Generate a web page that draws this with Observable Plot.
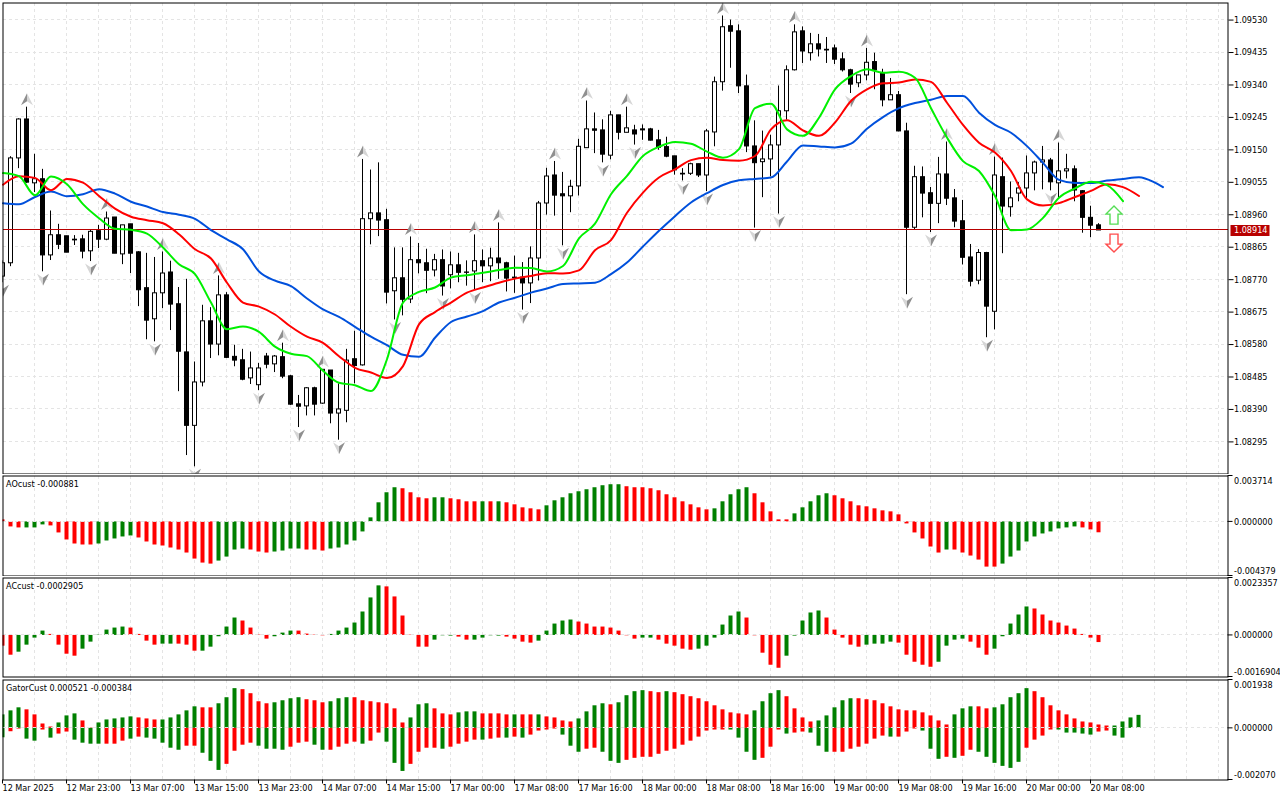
<!DOCTYPE html>
<html><head><meta charset="utf-8">
<script src="https://cdn.jsdelivr.net/npm/d3@7"></script>
<script src="https://cdn.jsdelivr.net/npm/@observablehq/plot@0.6"></script>
<style>html,body{margin:0;padding:0;background:#fff}#chart{position:relative;width:1280px;height:800px;overflow:hidden}#chart svg{position:absolute;left:0}</style>
</head><body><div id="chart"></div>
<script>
// Candles, in 1e-5 price points
const openPts=[108779,108818,109125,109239,109052,109064,108841,108900,108897,108887,
108888,108853,108912,108887,108952,108844,108932,108850,108745,108654,
108730,108791,108698,108557,108342,108469,108648,108580,108724,108544,
108534,108481,108461,108545,108522,108543,108487,108405,108399,108452,
108407,108504,108378,108386,108537,108519,108947,108964,108944,108736,
108774,108712,108827,108818,108797,108827,108783,108812,108791,108794,
108824,108809,108832,108818,108776,108776,108759,108832,108993,109075,
109020,109014,109043,109155,109210,109207,109133,109251,109200,109207,
109210,109210,109178,109158,109131,109080,109080,109108,109075,109201,
109348,109512,109497,109336,109160,109114,109122,109163,109263,109383,
109497,109433,109459,109443,109447,109415,109383,109345,109368,109407,
109374,109295,109310,109204,108922,109070,109023,108992,109078,109008,
108941,108835,108767,108848,108676,109070,108982,109022,109037,109081,
109113,109119,109052,109087,109093,109029,108951,108929];
const closePts=[108818,109125,109239,109054,109064,108841,108900,108872,108849,108885,
108852,108910,108887,108949,108846,108929,108846,108739,108650,108730,
108788,108697,108559,108342,108469,108648,108580,108724,108541,108533,
108477,108510,108510,108521,108545,108486,108404,108398,108452,108404,
108506,108378,108390,108533,108517,108947,108964,108943,108732,108774,
108711,108827,108818,108796,108827,108750,108812,108790,108790,108824,
108809,108832,108818,108773,108774,108759,108832,108993,109072,109016,
109014,109042,109159,109210,109206,109136,109251,109200,109213,109195,
109207,109177,109156,109130,109090,109078,109108,109075,109204,109348,
109509,109496,109336,109160,109111,109122,109163,109263,109383,109494,
109438,109459,109444,109441,109414,109383,109341,109368,109405,109383,
109295,109310,109204,108922,109070,109022,108992,109078,109007,108940,
108834,108764,108848,108691,109075,108984,109008,109037,109081,109113,
109119,109055,109087,109093,109031,108951,108928,108914];
const highPts=[108825,109130,109241,109275,109137,109093,108971,108932,108897,108899,
108900,108914,108929,108968,108952,108929,108932,108852,108847,108835,
108851,108824,108747,108771,108529,108695,108688,108781,108732,108578,
108566,108558,108525,108554,108548,108584,108490,108431,108454,108455,
108507,108504,108465,108566,108619,109122,109091,109112,108976,108863,
108863,108895,108876,108859,108844,108857,108851,108847,108825,108901,
108857,108862,108936,108821,108839,108820,108866,108999,109096,109116,
109084,109061,109181,109293,109258,109238,109263,109251,109275,109222,
109223,109213,109207,109187,109131,109095,109111,109108,109210,109363,
109542,109530,109516,109369,109235,109205,109193,109337,109396,109516,
109510,109491,109488,109479,109457,109434,109386,109368,109447,109433,
109386,109359,109321,109228,109102,109100,109040,109128,109173,109034,
109002,108873,108858,108850,109129,109126,109056,109054,109132,109117,
109160,109125,109170,109137,109103,109031,108985,108934];
const lowPts=[108761,108808,109095,109052,109025,108793,108826,108858,108849,108870,
108831,108823,108861,108884,108846,108814,108788,108691,108594,108588,
108685,108621,108442,108255,108222,108456,108539,108547,108539,108515,
108474,108463,108445,108509,108498,108480,108402,108337,108371,108371,
108405,108348,108300,108351,108465,108517,108872,108896,108699,108652,
108664,108700,108787,108729,108778,108722,108743,108761,108751,108740,
108761,108764,108771,108734,108730,108681,108700,108766,108959,108956,
108869,108966,109015,109154,109139,109112,109121,109179,109200,109164,
109178,109176,109149,109127,109076,109059,109075,109069,109028,109159,
109322,109389,109315,109142,108921,109010,109071,108962,109237,109381,
109403,109410,109422,109403,109400,109378,109315,109332,109352,109326,
109276,109295,109203,108726,108916,108951,108908,108934,108987,108922,
108813,108749,108755,108600,108623,108846,108953,108998,109005,109030,
109033,109030,109010,109065,108998,108906,108893,108914];

// Alligator lines, read every second bar (the blue one has its last bar as well)
const jawPts=[108994,108991,109012,109028,109014,109020,109035,109022,108998,108984,108968,108960,108948,108915,108888,108859,108794,108767,108751,108715,
108683,108661,108632,108603,108578,108550,108544,108600,108646,108662,108678,108703,108717,108732,108744,108757,108759,108761,108786,108820,
108867,108913,108956,108996,109023,109047,109061,109065,109069,109116,109163,109160,109157,109168,109212,109246,109272,109287,109297,109308,
109308,109259,109223,109200,109161,109112,109062,109053,109053,109060,109065,109070,109054,109041];
const teethPts=[109048,109073,109068,109032,109065,109054,109015,108978,108954,108944,108935,108903,108859,108832,108761,108703,108691,108668,108632,108603,
108585,108546,108512,108498,108482,108517,108639,108675,108703,108732,108747,108761,108773,108781,108789,108788,108797,108856,108886,108966,
109025,109069,109093,109120,109127,109120,109118,109132,109210,109237,109207,109191,109230,109293,109327,109345,109347,109356,109349,109288,
109223,109171,109142,109088,109005,108987,108994,109012,109030,109049,109041,109015];
const lipsPts=[109082,109073,109017,109072,109049,108991,108950,108919,108916,108905,108864,108815,108786,108703,108625,108633,108617,108574,108553,108546,
108503,108468,108461,108444,108537,108703,108734,108747,108776,108783,108790,108798,108805,108804,108794,108810,108891,108934,109020,109074,
109132,109159,109173,109168,109145,109127,109152,109272,109285,109210,109191,109244,109327,109366,109386,109376,109379,109361,109272,109186,
109117,109088,109015,108915,108917,108951,109010,109037,109057,109047,109000];

const fractalUp=[3,13,20,27,35,40,45,51,59,62,69,73,78,90,99,108,118,124,132];
const fractalDown=[0,5,11,19,24,32,37,42,49,55,59,65,70,75,79,85,88,94,97,106,113,116,123,131];
const signalBar=139, signalUpPts=108959, signalDownPts=108877;
const currentPrice=1.08914;

// Oscillators, in millionths
const aoValues=[163,-407,-488,-488,-488,-244,-325,-894,-1463,-1789,
-1870,-1870,-1789,-1545,-1382,-1220,-1138,-1301,-1626,-1870,
-1951,-2114,-2276,-2520,-3008,-3333,-3415,-3171,-2846,-2276,
-2195,-2276,-2439,-2520,-2439,-2358,-2195,-2195,-2276,-2276,
-2358,-2195,-2114,-1870,-1545,-813,325,1545,2358,2764,
2683,2358,1951,1870,1951,1951,1870,1789,1626,1626,
1626,1626,1626,1545,1382,1138,1057,976,1301,1707,
1951,2276,2439,2602,2764,2927,3008,3008,2846,2764,
2764,2683,2520,2195,1951,1626,1382,1138,976,1057,
1626,2195,2602,2764,2276,1545,813,163,163,650,
1138,1626,2114,2276,2114,1870,1626,1301,1220,1057,
894,813,569,-163,-894,-1382,-2033,-2520,-2276,-2276,
-2520,-2764,-3089,-3659,-3659,-3415,-2846,-2358,-1626,-1220,
-976,-813,-569,-488,-407,-488,-650,-881];
const aoColors="rrrgggrrrr"+"rrgggggrrr"+"rrrrrrrggg"+"grrrggggrr"+"rggggggggg"+"rrrrggrrrr"+"grgrrrrrgg"+"ggggggggrr"+"rrrrrrrrrg"+"ggggrrrrrg"+"ggggrrrrrr"+"rrrrrrrrgr"+"rrrrrggggg"+"gggggrrr";
const acValues=[-436,-804,-681,-395,-109,177,41,-395,-763,-844,
-558,-272,14,218,300,341,300,41,-232,-395,
-354,-354,-354,-395,-640,-640,-477,-54,341,708,
586,300,14,-150,-54,95,177,177,54,14,
-14,41,177,300,504,953,1525,2016,1975,1566,
790,14,-477,-477,-191,-14,-27,-68,-191,-191,
-109,-14,-27,-68,-150,-272,-313,-232,177,463,
586,627,545,463,341,341,300,177,-14,-150,
-109,-109,-191,-354,-436,-558,-599,-558,-436,-109,
422,790,953,708,-14,-722,-1212,-1335,-844,-27,
586,913,994,708,218,-109,-395,-477,-395,-354,
-354,-272,-313,-804,-1090,-1212,-1294,-1090,-436,-191,
-150,-272,-518,-804,-558,-54,463,831,1158,1076,
831,586,504,381,259,41,-109,-290];
const acColors="rrggggrrrr"+"ggggggrrrr"+"ggrrrggggg"+"rrrrgggrrr"+"rgggggggrr"+"rrrrgggrrg"+"gggrrrrggg"+"ggrrrrrrrr"+"ggrrrrrggg"+"gggrrrrrgg"+"gggrrrrrgg"+"ggrrrrrggg"+"grrrgggggr"+"rrrrrrrr";
const gatorUp=[540,701,823,742,540,175,54,216,499,580,
297,13,216,337,378,418,459,418,378,337,
337,418,540,701,863,823,823,985,1228,1592,
1551,1389,1066,985,1025,1106,1187,1228,1147,1106,
1025,1066,1187,1228,1228,1106,1066,1025,985,782,
216,418,944,985,782,580,540,621,661,661,
580,580,580,540,540,540,540,540,459,418,
297,256,378,661,904,985,944,1025,1309,1470,
1511,1470,1430,1470,1430,1349,1268,1187,1066,904,
742,621,580,540,701,1066,1389,1511,1268,782,
418,256,297,499,823,1106,1187,1187,1147,1106,
985,863,742,701,701,621,499,297,135,540,
782,863,863,782,823,944,1228,1389,1592,1470,
1228,904,701,540,378,256,216,135,94,94,
256,418,521];
const gatorDown=[378,135,27,432,513,67,391,229,148,472,
594,634,634,634,634,513,432,351,391,432,
594,796,877,715,715,998,1322,1686,1443,917,
675,594,715,836,836,877,755,594,553,675,
877,877,755,634,553,634,513,189,553,1403,
1727,1443,958,796,796,836,755,634,553,472,
472,432,391,391,351,391,270,108,67,27,
270,715,958,836,796,958,1322,1403,1282,1201,
1160,1160,1039,917,836,675,513,351,108,67,
67,67,391,958,1282,1201,755,67,229,189,
148,189,715,958,958,958,836,755,634,432,
310,351,351,148,27,108,836,1241,1160,1201,
1120,877,958,1160,1403,1524,1605,1362,796,472,
310,67,67,189,189,229,270,148,108,310,
391,0,0].map(v=>-v);
const gatorUpColors="gggrrrrggg"+"rrgggggrrr"+"gggggrrggg"+"rrrrggggrr"+"rgggrrrrrr"+"rgggrrrggg"+"rrrrgrrgrr"+"rrggggrggg"+"grrgrrrrrr"+"rrrrggggrr"+"rrgggggrrr"+"rrrrrrrrrg"+"ggrrgggggr"+"rrrrrrrrrg"+"ggg";
const gatorDownColors="grrggrgrrg"+"gggrrrgrgg"+"gggrrgggrr"+"rrggggrrrg"+"grrrrgrrgg"+"grrrrgrrrr"+"grrgrgrrrr"+"gggrrgggrr"+"rrrrrrrrrr"+"rggggrrrgr"+"rgggrrrrrr"+"rgrrrgggrg"+"rrggggggrr"+"rrgggggrrg"+"ggg";

const priceTicks=[109530,109435,109340,109245,109150,109055,108960,108865,108770,108675,108580,108485,108390,108295];
const timeLabels=["12 Mar 2025","12 Mar 23:00","13 Mar 07:00","13 Mar 15:00","13 Mar 23:00","14 Mar 07:00","14 Mar 15:00","17 Mar 00:00","17 Mar 08:00","17 Mar 16:00","18 Mar 00:00","18 Mar 08:00","18 Mar 16:00","19 Mar 00:00","19 Mar 08:00","19 Mar 16:00","20 Mar 00:00","20 Mar 08:00"];

const FONT="'DejaVu Sans Condensed','Liberation Sans',sans-serif";
const FS=9;
const RED="#ff0000",GREEN="#008000",GRID="#e4e4e4",DASH="3,3";
const xDomain=[0,153.125];
const gridBars=d3.range(4,153,4);
const P=v=>v/1e5, M=v=>v/1e6;
const bars=d3.range(138);
const O=i=>P(openPts[i]),C=i=>P(closePts[i]),H=i=>P(highPts[i]),L=i=>P(lowPts[i]);

const halfLeftUp={draw(c){c.moveTo(0,-6);c.lineTo(-6,6);c.lineTo(0,2);c.closePath()}};
const halfRightUp={draw(c){c.moveTo(0,-6);c.lineTo(6,6);c.lineTo(0,2);c.closePath()}};
const halfLeftDown={draw(c){c.moveTo(0,6);c.lineTo(-6,-6);c.lineTo(0,-2);c.closePath()}};
const halfRightDown={draw(c){c.moveTo(0,6);c.lineTo(6,-6);c.lineTo(0,-2);c.closePath()}};
const hollowUp={draw(c){c.moveTo(0,-9);c.lineTo(8,-1);c.lineTo(4,-1);c.lineTo(4,9);c.lineTo(-4,9);c.lineTo(-4,-1);c.lineTo(-8,-1);c.closePath()}};
const hollowDown={draw(c){c.moveTo(0,9);c.lineTo(8,1);c.lineTo(4,1);c.lineTo(4,-9);c.lineTo(-4,-9);c.lineTo(-4,1);c.lineTo(-8,1);c.closePath()}};
const priceBox={draw(c){c.rect(-19.5,-5.5,39,11)}};

const vGrid=()=>Plot.ruleX(gridBars,{x:d=>d,stroke:GRID,strokeDasharray:DASH,dx:-0.5,shapeRendering:"crispEdges"});

const base=(o)=>Plot.plot({width:1280,marginLeft:2.5,marginRight:52.5,
  x:{domain:xDomain,range:[2.5,1227.5],axis:null},
  style:{fontFamily:FONT,fontSize:FS+"px",background:"transparent",color:"#000",maxWidth:"none"},...o});

const main=base({height:474,marginTop:2.5,marginBottom:0.5,
  y:{domain:[1.08201,1.0958],range:[473.5,2.5]},
  marks:[
    vGrid(),
    Plot.ruleY(priceTicks,{y:P,stroke:GRID,strokeDasharray:DASH,dy:-0.5,shapeRendering:"crispEdges"}),
    Plot.ruleX(bars,{x:i=>i,y1:L,y2:H,stroke:"#000",clip:true,dx:-0.5}),
    Plot.rect(bars.filter(i=>closePts[i]>=openPts[i]),{x1:i=>i-.25,x2:i=>i+.25,y1:O,y2:C,fill:"#fff",stroke:"#000",clip:true}),
    Plot.rect(bars.filter(i=>closePts[i]<openPts[i]),{x1:i=>i-.25,x2:i=>i+.25,y1:O,y2:C,fill:"#000",stroke:"#000",clip:true}),
    Plot.ruleY([currentPrice],{y:d=>d,stroke:"#b80000",dy:-1,shapeRendering:"crispEdges"}),
    Plot.dot(fractalUp,{x:i=>i,y:H,dy:-8,symbol:halfLeftUp,fill:"#8f8f8f",stroke:"none",clip:true}),
    Plot.dot(fractalUp,{x:i=>i,y:H,dy:-8,symbol:halfRightUp,fill:"#d6d6d6",stroke:"none",clip:true}),
    Plot.dot(fractalDown,{x:i=>i,y:L,dy:8,symbol:halfLeftDown,fill:"#d6d6d6",stroke:"none",clip:true}),
    Plot.dot(fractalDown,{x:i=>i,y:L,dy:8,symbol:halfRightDown,fill:"#8f8f8f",stroke:"none",clip:true}),
    Plot.line(jawPts,{x:(d,k)=>k<73?2*k:145,y:P,stroke:"#0050dc",strokeWidth:2,curve:"monotone-x"}),
    Plot.line(teethPts,{x:(d,k)=>2*k,y:P,stroke:"#ff0000",strokeWidth:2,curve:"monotone-x"}),
    Plot.line(lipsPts,{x:(d,k)=>2*k,y:P,stroke:"#00f000",strokeWidth:2,curve:"monotone-x"}),
    Plot.dot([signalUpPts],{x:()=>signalBar,y:P,dx:-1,symbol:hollowUp,fill:"#fff",stroke:"#55dd55",strokeWidth:1.4}),
    Plot.dot([signalDownPts],{x:()=>signalBar,y:P,dx:-1,symbol:hollowDown,fill:"#fff",stroke:"#ff4d4d",strokeWidth:1.4}),
    Plot.frame({stroke:"#000"}),
    Plot.axisY(priceTicks.map(P),{anchor:"right",tickSize:5,tickPadding:1,tickFormat:d=>d.toFixed(5),label:null,fontSize:FS}),
    Plot.dot([currentPrice],{x:()=>xDomain[1],y:d=>d,dx:22,symbol:priceBox,fill:"#b80000",stroke:"none"}),
    Plot.text([currentPrice],{frameAnchor:"right",y:d=>d,text:d=>d.toFixed(5),fill:"#fff",textAnchor:"start",dx:6,fontSize:FS})
  ]});
main.style.top="0px";

function panel({top,height,mt,mb,domain,label,tickLabels,series,axis}){
  const rectMarks=series.flatMap(({values,colors})=>{
    const idx=d3.range(values.length);
    return ["r","g"].map(k=>Plot.rect(idx.filter(i=>colors[i]===k),{x1:i=>i-.25,x2:i=>i+.25,y1:()=>0,y2:i=>M(values[i]),fill:k==="r"?RED:GREEN,clip:true}));
  });
  const [lo,hi]=domain;
  const svg=base({height,marginTop:mt,marginBottom:mb,
    y:{domain:[lo,hi],range:[height-mb,mt],axis:null},
    marks:[
      vGrid(),
      ...rectMarks,
      Plot.ruleY([0],{y:d=>d,stroke:GRID,strokeDasharray:DASH,dy:-0.5,shapeRendering:"crispEdges"}),
      Plot.frame({stroke:"#000"}),
      Plot.ruleY([hi,0,lo],{y:d=>d,x1:()=>xDomain[1],x2:()=>xDomain[1]+.625,stroke:"#000",dy:-0.5}),
      Plot.text([0],{y:d=>d,frameAnchor:"right",text:()=>tickLabels[1],textAnchor:"start",dx:6,fontSize:FS}),
      Plot.text([hi],{y:d=>d,frameAnchor:"right",text:()=>tickLabels[0],textAnchor:"start",dx:6,dy:5,fontSize:FS}),
      Plot.text([lo],{y:d=>d,frameAnchor:"right",text:()=>tickLabels[2],textAnchor:"start",dx:6,dy:-5,fontSize:FS}),
      Plot.text([label],{frameAnchor:"top-left",text:d=>d,textAnchor:"start",dx:3,dy:5,fontSize:FS}),
      ...(axis||[])
    ]});
  svg.style.top=top+"px";
  return svg;
}
const aoPanel=panel({top:474,height:102,mt:1.5,mb:.5,domain:[-0.004379,0.003714],label:"AOcust -0.000881",tickLabels:["0.003714","0.000000","-0.004379"],
  series:[{values:aoValues,colors:aoColors}]});
const acPanel=panel({top:576,height:102,mt:1.5,mb:1.5,domain:[-0.0016904,0.0023357],label:"ACcust -0.0002905",tickLabels:["0.0023357","0.000000","-0.0016904"],
  series:[{values:acValues,colors:acColors}]});
const gatorPanel=panel({top:678,height:122,mt:1.5,mb:20.5,domain:[-0.00207,0.001938],label:"GatorCust 0.000521 -0.000384",tickLabels:["0.001938","0.000000","-0.002070"],
  series:[{values:gatorUp,colors:gatorUpColors},{values:gatorDown,colors:gatorDownColors}],
  axis:[Plot.axisX(d3.range(0,timeLabels.length).map(k=>k*8),{tickSize:4,tickPadding:1,tickFormat:d=>timeLabels[d/8],textAnchor:"start",label:null,fontSize:FS,dx:-0.5})]});

document.getElementById("chart").append(main,aoPanel,acPanel,gatorPanel);
</script>
</body></html>
